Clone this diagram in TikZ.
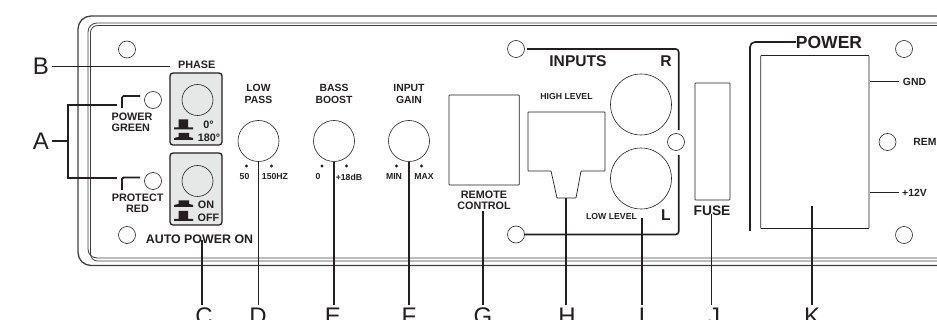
\documentclass[tikz,border=0pt]{standalone}
\usepackage{fontspec}
\setmainfont{Liberation Sans}
\definecolor{ink}{HTML}{231F20}
\definecolor{plate}{HTML}{E6E7E7}
\begin{document}
\begin{tikzpicture}[x = 1pt, y = -1pt, ink,
    hole/.style = {circle, draw, line width = .6pt, minimum size = 17pt, inner sep = 0},
    knob/.style = {circle, draw, line width = .6pt, minimum size = 41pt, inner sep = 0},
    jack/.style = {circle, draw, line width = .6pt, minimum size = 61pt, inner sep = 0},
    dial/.style = {circle, draw, line width = .6pt, minimum size = 31pt, inner sep = 0},
    dotmark/.style = {circle, fill, minimum size = 3.4pt, inner sep = 0},
    socket/.style = {draw, line width = .7pt, rounded corners = .6pt},
    leader/.style = {line width = 1.2pt},
    bracket/.style = {line width = 1.6pt, rounded corners = 3pt},
    lbl/.style = {inner sep = 0, align = center, font = \fontsize{10.8}{11}\selectfont\bfseries},
    lblsmall/.style = {inner sep = 0, align = center, font = \fontsize{8.7}{9}\selectfont\bfseries},
    letter/.style = {inner sep = 3pt, font = \fontsize{24}{24}\selectfont}]
  \useasboundingbox (0,0) rectangle (937,320);
  \clip (0,0) rectangle (937,320);
  % panel
  \draw [line width = 1.3pt, black!75, rounded corners = 13pt] (960,16) -- (78,16) -- (78,265.5) -- (960,265.5);
  \draw [line width = .8pt, black!75, rounded corners = 9pt] (960,23) -- (88,23) -- (88,258) -- (960,258);
  \draw [line width = .8pt, black!75, rounded corners = 7pt] (960,25.5) -- (90.5,25.5) -- (90.5,261) -- (960,261);
  % holes
  \node [hole] (holeTL) at (127,49.5) {};
  \node [hole] (holeBL) at (127,235) {};
  \node [hole] (ledPower) at (153,100) {};
  \node [hole] (ledProtect) at (153,181) {};
  \node [hole] (holeInT) at (516,49) {};
  \node [hole] (holeInR) at (676,142) {};
  \node [hole] (holeInB) at (516,234.5) {};
  \node [hole] (holeTR) at (904,49) {};
  \node [hole] (holeRem) at (887.5,142) {};
  \node [hole] (holeBR) at (904,235) {};
  % switches
  \draw [fill = plate, line width = 1.3pt, rounded corners = 3pt] (170,73) rectangle (222,145);
  \draw [fill = plate, line width = 1.3pt, rounded corners = 3pt] (170,153) rectangle (222,225);
  \node [dial] (dialPhase) at (197.5,100) {};
  \node [dial] (dialAuto) at (197.5,181) {};
  \fill (174,129.5) --++ (19,0) --++ (0,-2) --++ (-5,0) --++ (0,-8) --++ (-9.5,0) --++ (0,8) --++ (-4.5,0) -- cycle;
  \fill (174,140) --++ (19,0) --++ (0,-2) --++ (-4,-1) --++ (0,-4) --++ (-10.5,0) --++ (0,4) --++ (-4.5,1) -- cycle;
  \fill (174,207) --++ (19,0) --++ (0,-2) --++ (-4,-1) --++ (0,-3.5) --++ (-10.5,0) --++ (0,3.5) --++ (-4.5,1) -- cycle;
  \fill (174,221) --++ (19,0) --++ (0,-2) --++ (-5,0) --++ (0,-8) --++ (-9.5,0) --++ (0,8) --++ (-4.5,0) -- cycle;
  \node [lbl] (phase) at (196.7,65) {PHASE};
  \node [lbl] (deg0) at (208.5,125) {0°};
  \node [lbl] (deg180) at (209,137.5) {180°};
  \node [lbl] (swOn) at (206,205) {ON};
  \node [lbl] (swOff) at (208.5,217.5) {OFF};
  \node [lbl, align = left] (powerGreen) at (132,122) {POWER\\GREEN};
  \node [lbl] (protectRed) at (137.6,203.5) {PROTECT\\RED};
  \node [lbl, font = \fontsize{12.4}{13}\selectfont\bfseries] (autoOn) at (199.5,239.5) {AUTO POWER ON};
  \draw [bracket, rounded corners = 1.5pt] (122,108) -- (122,96) -- (140,96);
  \draw [bracket, rounded corners = 1.5pt, line width = 1.9pt] (122,190) -- (122,177.5) -- (140,177.5);
  % knobs
  \node [knob] (knobLow) at (258.5,141) {};
  \node [knob] (knobBass) at (334,141) {};
  \node [knob] (knobGain) at (409,141) {};
  \node [dotmark] (dotLowA) at (246.5,166) {};
  \node [dotmark] (dotLowB) at (271.5,166) {};
  \node [dotmark] (dotBassA) at (322,166) {};
  \node [dotmark] (dotBassB) at (346.5,166) {};
  \node [dotmark] (dotGainA) at (396.5,166) {};
  \node [dotmark] (dotGainB) at (421.5,166) {};
  \node [lbl, font = \fontsize{10.4}{12.2}\selectfont\bfseries] (lowPass) at (258.5,94) {LOW\\PASS};
  \node [lbl, font = \fontsize{10.4}{12.2}\selectfont\bfseries] (bassBoost) at (334,94) {BASS\\BOOST};
  \node [lbl, font = \fontsize{10.4}{12.2}\selectfont\bfseries] (inputGain) at (409,94) {INPUT\\GAIN};
  \node [lblsmall] (mkA) at (244.5,177) {50};
  \node [lblsmall] (mkB) at (275,177) {150HZ};
  \node [lblsmall] (mkC) at (318,177) {0};
  \node [lblsmall] (mkD) at (349,177) {+18dB};
  \node [lblsmall] (mkE) at (394,177) {MIN};
  \node [lblsmall] (mkF) at (424,177) {MAX};
  % remote and inputs
  \draw [socket] (449,95) rectangle (519.3,185);
  \node [lbl] (remote) at (484,200) {REMOTE\\CONTROL};
  \draw [socket] (528,112) -- (605,112) -- (605,171) -- (581,171) -- (576,198) -- (557,198) -- (551,171) -- (528,171) -- cycle;
  \coordinate (highOut) at (566,198);
  \node [lblsmall] (highLevel) at (566.5,96.5) {HIGH LEVEL};
  \node [lblsmall] (lowLevel) at (611.5,216.5) {LOW LEVEL};
  \node [jack] (jackR) at (641,104.5) {};
  \node [jack] (jackL) at (641,178.5) {};
  \node [lbl, font = \fontsize{15.6}{16}\selectfont\bfseries] (inputs) at (578,61) {INPUTS};
  \node [lbl, font = \fontsize{15.6}{16}\selectfont\bfseries] (inR) at (666,61) {R};
  \node [lbl, font = \fontsize{15.6}{16}\selectfont\bfseries] (inL) at (666,215) {L};
  \draw [bracket] (527,49) -- (678.7,49) -- (678.7,130);
  \draw [bracket] (678.7,155) -- (678.7,234.5) -- (holeInB.east);
  % fuse and power
  \draw [socket] (695,83) rectangle (730,200);
  \node [lbl, font = \fontsize{13.8}{14}\selectfont\bfseries] (fuse) at (712,211) {FUSE};
  \node [lbl, font = \fontsize{17.5}{18}\selectfont\bfseries] (power) at (829,42) {POWER};
  \draw [bracket, rounded corners = 5pt] (750,231) -- (750,42) -- (power.west);
  \draw [socket] (760.7,55.5) rectangle (869,228.5);
  \coordinate (gndPin) at (870,81.5);
  \coordinate (gndEnd) at (899,81.5);
  \coordinate (posPin) at (870,192.5);
  \coordinate (posEnd) at (899,192.5);
  \node [lbl, font = \fontsize{10.4}{11}\selectfont\bfseries] (gnd) at (914.5,82) {GND};
  \node [lbl, font = \fontsize{10.4}{11}\selectfont\bfseries] (rem) at (925,142) {REM};
  \node [lbl, font = \fontsize{10.4}{11}\selectfont\bfseries] (pos) at (914.5,192.5) {+12V};
  \draw [leader, line width = 1.4pt] (gndPin) -- (gndEnd);
  \draw [leader, line width = 1.4pt] (posPin) -- (posEnd);
  % letters
  \node [letter] (lB) at (41,66.5) {B};
  \node [letter] (lA) at (41,141) {A};
  \node [letter, anchor = north] (lC) at (204,305) {C};
  \node [letter, anchor = north] (lD) at (258,305) {D};
  \node [letter, anchor = north] (lE) at (333,305) {E};
  \node [letter, anchor = north] (lF) at (409,305) {F};
  \node [letter, anchor = north] (lG) at (483,305) {G};
  \node [letter, anchor = north] (lH) at (567,305) {H};
  \node [letter, anchor = north] (lI) at (642,305) {I};
  \node [letter, anchor = north] (lJ) at (714,305) {J};
  \node [letter, anchor = north] (lK) at (812,305) {K};
  % leaders
  \coordinate (autoIn) at (202,240);
  \coordinate (lowIn) at (642,218);
  \coordinate (fuseIn) at (711,214);
  \coordinate (powerIn) at (812,206);
  \coordinate (phaseEnd) at (170,66.5);
  \coordinate (armA) at (68,141);
  \coordinate (armPower) at (117,105);
  \coordinate (armProtect) at (117,178);
  \draw [leader] (lB.east) -- (phaseEnd);
  \draw [leader] (lA.east) -- (armA);
  \draw [leader] (armPower) -- (armPower -| armA) -- (armProtect -| armA) -- (armProtect);
  \draw [leader] (autoIn) -- (autoIn |- lC.north);
  \draw [leader] (knobLow.south) -- (knobLow.south |- lD.north);
  \draw [leader] (knobBass.south) -- (knobBass.south |- lE.north);
  \draw [leader] (knobGain.south) -- (knobGain.south |- lF.north);
  \draw [leader] (remote.south) ++ (-1,1) -- (lG.north);
  \draw [leader] (highOut) -- (highOut |- lH.north);
  \draw [leader] (lowIn) -- (lowIn |- lI.north);
  \draw [leader, line width = .9pt] (fuseIn) -- (fuseIn |- lJ.north);
  \draw [leader] (powerIn) -- (powerIn |- lK.north);
\end{tikzpicture}
\end{document}
